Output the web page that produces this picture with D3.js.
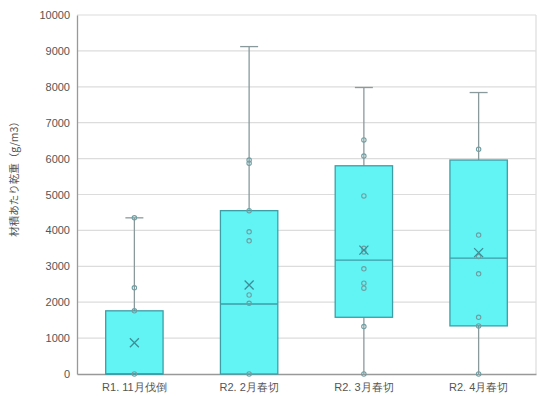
<!DOCTYPE html>
<html>
<head>
<meta charset="utf-8">
<script src="https://cdn.jsdelivr.net/npm/d3@7"></script>
<style>
  html, body { margin: 0; padding: 0; background: #fff; }
  svg { display: block; font-family: "Noto Sans CJK JP", "Noto Sans", sans-serif; }
</style>
</head>
<body>
<svg id="chart" width="539" height="396"></svg>
<script>
// Categories (felling timing)
const categories = ["R1. 11月伐倒", "R2. 2月春切", "R2. 3月春切", "R2. 4月春切"];

// Box statistics per category
const whiskerLow  = [0, 0, 0, 0];
const quartile1   = [0, 0, 1580, 1340];
const medians     = [0, 1950, 3170, 3230];
const quartile3   = [1760, 4550, 5800, 5960];
const whiskerHigh = [4350, 9120, 7980, 7840];
const means       = [870, 2480, 3450, 3380];

// Individual observations per category
const points = [
  [0, 1760, 2400, 4350],
  [0, 1970, 2200, 3710, 3960, 4550, 5870, 5960],
  [0, 1320, 2390, 2530, 2930, 3400, 3500, 4960, 6070, 6520],
  [0, 1340, 1580, 2790, 3270, 3870, 6260]
];

// Axis ticks
const yTicks = [0, 1000, 2000, 3000, 4000, 5000, 6000, 7000, 8000, 9000, 10000];
const yTitle = "材積あたり乾重（g/m3）";

const W = 539, H = 396;
const margin = { top: 15, right: 3, bottom: 22, left: 77 };
const svg = d3.select("#chart");

const x = d3.scaleBand().domain(categories)
  .range([margin.left, W - margin.right]).paddingInner(0.5).paddingOuter(0.25);
const y = d3.scaleLinear().domain([0, 10000]).range([H - margin.bottom, margin.top]);

// Horizontal gridlines
svg.append("g").selectAll("line").data(yTicks.filter(d => d > 0)).join("line")
  .attr("x1", margin.left).attr("x2", W - margin.right)
  .attr("y1", d => y(d)).attr("y2", d => y(d))
  .attr("stroke", "#dcdcdc").attr("stroke-width", 1.2);

// Right border
svg.append("line")
  .attr("x1", W - margin.right).attr("x2", W - margin.right)
  .attr("y1", y(10000)).attr("y2", y(0))
  .attr("stroke", "#dcdcdc").attr("stroke-width", 1.2);

// Y axis
const yAxis = svg.append("g")
  .attr("transform", `translate(${margin.left},0)`)
  .call(d3.axisLeft(y).tickValues(yTicks).tickSize(0).tickPadding(7).tickFormat(d3.format("d")));
yAxis.select(".domain").attr("stroke", "#999").attr("stroke-width", 1.3);
yAxis.selectAll("text").attr("fill", "#555").style("font-size", "11px")
  .style("font-family", "'Liberation Sans', Arial, sans-serif");

// X axis baseline and category labels
const xAxis = svg.append("g")
  .attr("transform", `translate(0,${y(0)})`)
  .call(d3.axisBottom(x).tickSize(0).tickPadding(9));
xAxis.select(".domain").attr("stroke", "#999").attr("stroke-width", 1.3);
xAxis.selectAll("text").attr("fill", "#555").style("font-size", "11px");

// Y axis title
svg.append("text")
  .attr("transform", `translate(18,${(margin.top + y(0)) / 2 - 18}) rotate(-90)`)
  .attr("text-anchor", "middle")
  .attr("fill", "#555").style("font-size", "10.5px")
  .text(yTitle);

const boxes = svg.append("g").selectAll("g").data(categories).join("g");
const bw = x.bandwidth();
const cx = c => x(c) + bw / 2;
const capW = 18;

// Whiskers
boxes.append("line")
  .attr("x1", cx).attr("x2", cx)
  .attr("y1", (c, i) => y(whiskerLow[i])).attr("y2", (c, i) => y(whiskerHigh[i]))
  .attr("stroke", "#8a9a9c").attr("stroke-width", 1.3);
boxes.append("line")
  .attr("x1", c => cx(c) - capW / 2).attr("x2", c => cx(c) + capW / 2)
  .attr("y1", (c, i) => y(whiskerHigh[i])).attr("y2", (c, i) => y(whiskerHigh[i]))
  .attr("stroke", "#8a9a9c").attr("stroke-width", 1.3);

// Boxes
boxes.append("rect")
  .attr("x", c => x(c)).attr("width", bw)
  .attr("y", (c, i) => y(quartile3[i]))
  .attr("height", (c, i) => y(quartile1[i]) - y(quartile3[i]))
  .attr("fill", "#62f4f4").attr("stroke", "#3d9ea6").attr("stroke-width", 1.3);

// Medians
boxes.append("line")
  .attr("x1", c => x(c)).attr("x2", c => x(c) + bw)
  .attr("y1", (c, i) => y(medians[i])).attr("y2", (c, i) => y(medians[i]))
  .attr("stroke", "#3d9ea6").attr("stroke-width", 1.3);

// Individual points
boxes.each(function (c, i) {
  d3.select(this).selectAll("circle").data(points[i]).join("circle")
    .attr("cx", cx(c)).attr("cy", d => y(d)).attr("r", 2.2)
    .attr("fill", "none").attr("stroke", "#6f9ea2").attr("stroke-width", 1.1);
});

// Mean markers (×)
const s = 4.5;
boxes.append("path")
  .attr("d", (c, i) => {
    const px = cx(c), py = y(means[i]);
    return `M${px - s},${py - s}L${px + s},${py + s}M${px - s},${py + s}L${px + s},${py - s}`;
  })
  .attr("stroke", "#3d8e96").attr("stroke-width", 1.3).attr("fill", "none");
</script>
</body>
</html>
